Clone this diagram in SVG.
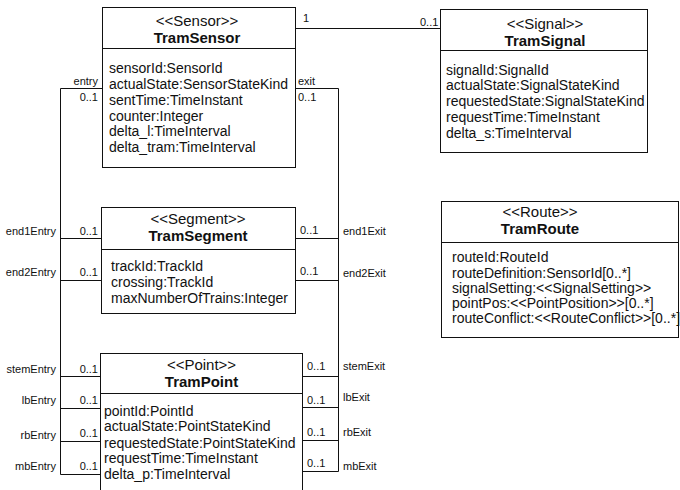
<svg xmlns="http://www.w3.org/2000/svg" width="680" height="490" viewBox="0 0 680 490">
<style>
.box{fill:#fff;stroke:#111;stroke-width:1}
.ln{fill:none;stroke:#111;stroke-width:1}
text{font-family:"Liberation Sans",Arial,sans-serif;fill:#111}
.hd{font-size:15px;text-anchor:middle}
.nm{font-weight:bold}
.at{font-size:14px}
.lb{font-size:11px}
.e{text-anchor:end}
</style>
<rect width="680" height="490" fill="#fff"/>
<g id="connectors">
<polyline class="ln" points="296,28.5 440.5,28.5"/>
<polyline class="ln" points="102,88.5 60.5,88.5 60.5,474.5"/>
<polyline class="ln" points="296,88.5 338.5,88.5 338.5,471.5"/>
<line class="ln" x1="60.5" y1="238.5" x2="101" y2="238.5"/>
<line class="ln" x1="60.5" y1="280.5" x2="101" y2="280.5"/>
<line class="ln" x1="296" y1="238.5" x2="338.5" y2="238.5"/>
<line class="ln" x1="296" y1="280.5" x2="338.5" y2="280.5"/>
<line class="ln" x1="60.5" y1="376.5" x2="100" y2="376.5"/>
<line class="ln" x1="60.5" y1="408.5" x2="100" y2="408.5"/>
<line class="ln" x1="60.5" y1="441.5" x2="100" y2="441.5"/>
<line class="ln" x1="60.5" y1="474.5" x2="100" y2="474.5"/>
<line class="ln" x1="303" y1="376.5" x2="338.5" y2="376.5"/>
<line class="ln" x1="303" y1="407.5" x2="338.5" y2="407.5"/>
<line class="ln" x1="303" y1="440.5" x2="338.5" y2="440.5"/>
<line class="ln" x1="303" y1="471.5" x2="338.5" y2="471.5"/>
<text class="lb" x="303" y="22">1</text>
<text class="lb" x="420" y="26">0..1</text>
<text class="lb e" x="98" y="85">entry</text>
<text class="lb e" x="98" y="101">0..1</text>
<text class="lb" x="298" y="85">exit</text>
<text class="lb" x="298" y="101">0..1</text>
<text class="lb e" x="56" y="235">end1Entry</text>
<text class="lb e" x="98" y="235">0..1</text>
<text class="lb e" x="56" y="276">end2Entry</text>
<text class="lb e" x="98" y="276">0..1</text>
<text class="lb" x="300" y="234">0..1</text>
<text class="lb" x="343" y="235">end1Exit</text>
<text class="lb" x="300" y="275">0..1</text>
<text class="lb" x="343" y="277">end2Exit</text>
<text class="lb e" x="56" y="373">stemEntry</text>
<text class="lb e" x="98" y="373">0..1</text>
<text class="lb e" x="56" y="404">lbEntry</text>
<text class="lb e" x="98" y="404">0..1</text>
<text class="lb e" x="56" y="439">rbEntry</text>
<text class="lb e" x="98" y="437">0..1</text>
<text class="lb e" x="56" y="470">mbEntry</text>
<text class="lb e" x="98" y="470">0..1</text>
<text class="lb" x="307" y="370">0..1</text>
<text class="lb" x="343" y="370">stemExit</text>
<text class="lb" x="307" y="404">0..1</text>
<text class="lb" x="343" y="401">lbExit</text>
<text class="lb" x="307" y="436">0..1</text>
<text class="lb" x="343" y="436">rbExit</text>
<text class="lb" x="307" y="467">0..1</text>
<text class="lb" x="343" y="470">mbExit</text>
</g>
<g id="TramSensor">
<rect class="box" x="102.5" y="7.5" width="193" height="160"/>
<line class="ln" x1="102.5" y1="48.5" x2="295.5" y2="48.5"/>
<text class="hd" x="197" y="25.5">&lt;&lt;Sensor&gt;&gt;</text>
<text class="hd nm" x="197" y="42.5">TramSensor</text>
<text class="at" x="109" y="73">sensorId:SensorId</text>
<text class="at" x="109" y="89">actualState:SensorStateKind</text>
<text class="at" x="109" y="105">sentTime:TimeInstant</text>
<text class="at" x="109" y="121">counter:Integer</text>
<text class="at" x="109" y="136">delta_l:TimeInterval</text>
<text class="at" x="109" y="152">delta_tram:TimeInterval</text>
</g>
<g id="TramSignal">
<rect class="box" x="440.5" y="9.5" width="207" height="143"/>
<line class="ln" x1="440.5" y1="50.5" x2="647.5" y2="50.5"/>
<text class="hd" x="545" y="28.5">&lt;&lt;Signal&gt;&gt;</text>
<text class="hd nm" x="545" y="45.5">TramSignal</text>
<text class="at" x="446" y="75">signalId:SignalId</text>
<text class="at" x="446" y="90">actualState:SignalStateKind</text>
<text class="at" x="446" y="106">requestedState:SignalStateKind</text>
<text class="at" x="446" y="122">requestTime:TimeInstant</text>
<text class="at" x="446" y="138">delta_s:TimeInterval</text>
</g>
<g id="TramSegment">
<rect class="box" x="101.5" y="207.5" width="194" height="106"/>
<line class="ln" x1="101.5" y1="249.5" x2="295.5" y2="249.5"/>
<text class="hd" x="198" y="223.5">&lt;&lt;Segment&gt;&gt;</text>
<text class="hd nm" x="198" y="240.5">TramSegment</text>
<text class="at" x="111" y="271">trackId:TrackId</text>
<text class="at" x="111" y="287">crossing:TrackId</text>
<text class="at" x="111" y="303">maxNumberOfTrains:Integer</text>
</g>
<g id="TramRoute">
<rect class="box" x="441.5" y="201.5" width="237" height="136"/>
<line class="ln" x1="441.5" y1="242.5" x2="678.5" y2="242.5"/>
<text class="hd" x="540" y="216.5">&lt;&lt;Route&gt;&gt;</text>
<text class="hd nm" x="540" y="233.5">TramRoute</text>
<text class="at" x="452" y="262">routeId:RouteId</text>
<text class="at" x="452" y="277.5">routeDefinition:SensorId[0..*]</text>
<text class="at" x="452" y="293">signalSetting:&lt;&lt;SignalSetting&gt;&gt;</text>
<text class="at" x="452" y="308">pointPos:&lt;&lt;PointPosition&gt;&gt;[0..*]</text>
<text class="at" x="452" y="323">routeConflict:&lt;&lt;RouteConflict&gt;&gt;[0..*]</text>
</g>
<g id="TramPoint">
<rect class="box" x="100.5" y="353.5" width="202" height="145"/>
<line class="ln" x1="100.5" y1="393.5" x2="302.5" y2="393.5"/>
<text class="hd" x="201.5" y="370">&lt;&lt;Point&gt;&gt;</text>
<text class="hd nm" x="201.5" y="387">TramPoint</text>
<text class="at" x="104" y="416">pointId:PointId</text>
<text class="at" x="104" y="431">actualState:PointStateKind</text>
<text class="at" x="104" y="448">requestedState:PointStateKind</text>
<text class="at" x="104" y="463">requestTime:TimeInstant</text>
<text class="at" x="104" y="479">delta_p:TimeInterval</text>
</g>
</svg>
